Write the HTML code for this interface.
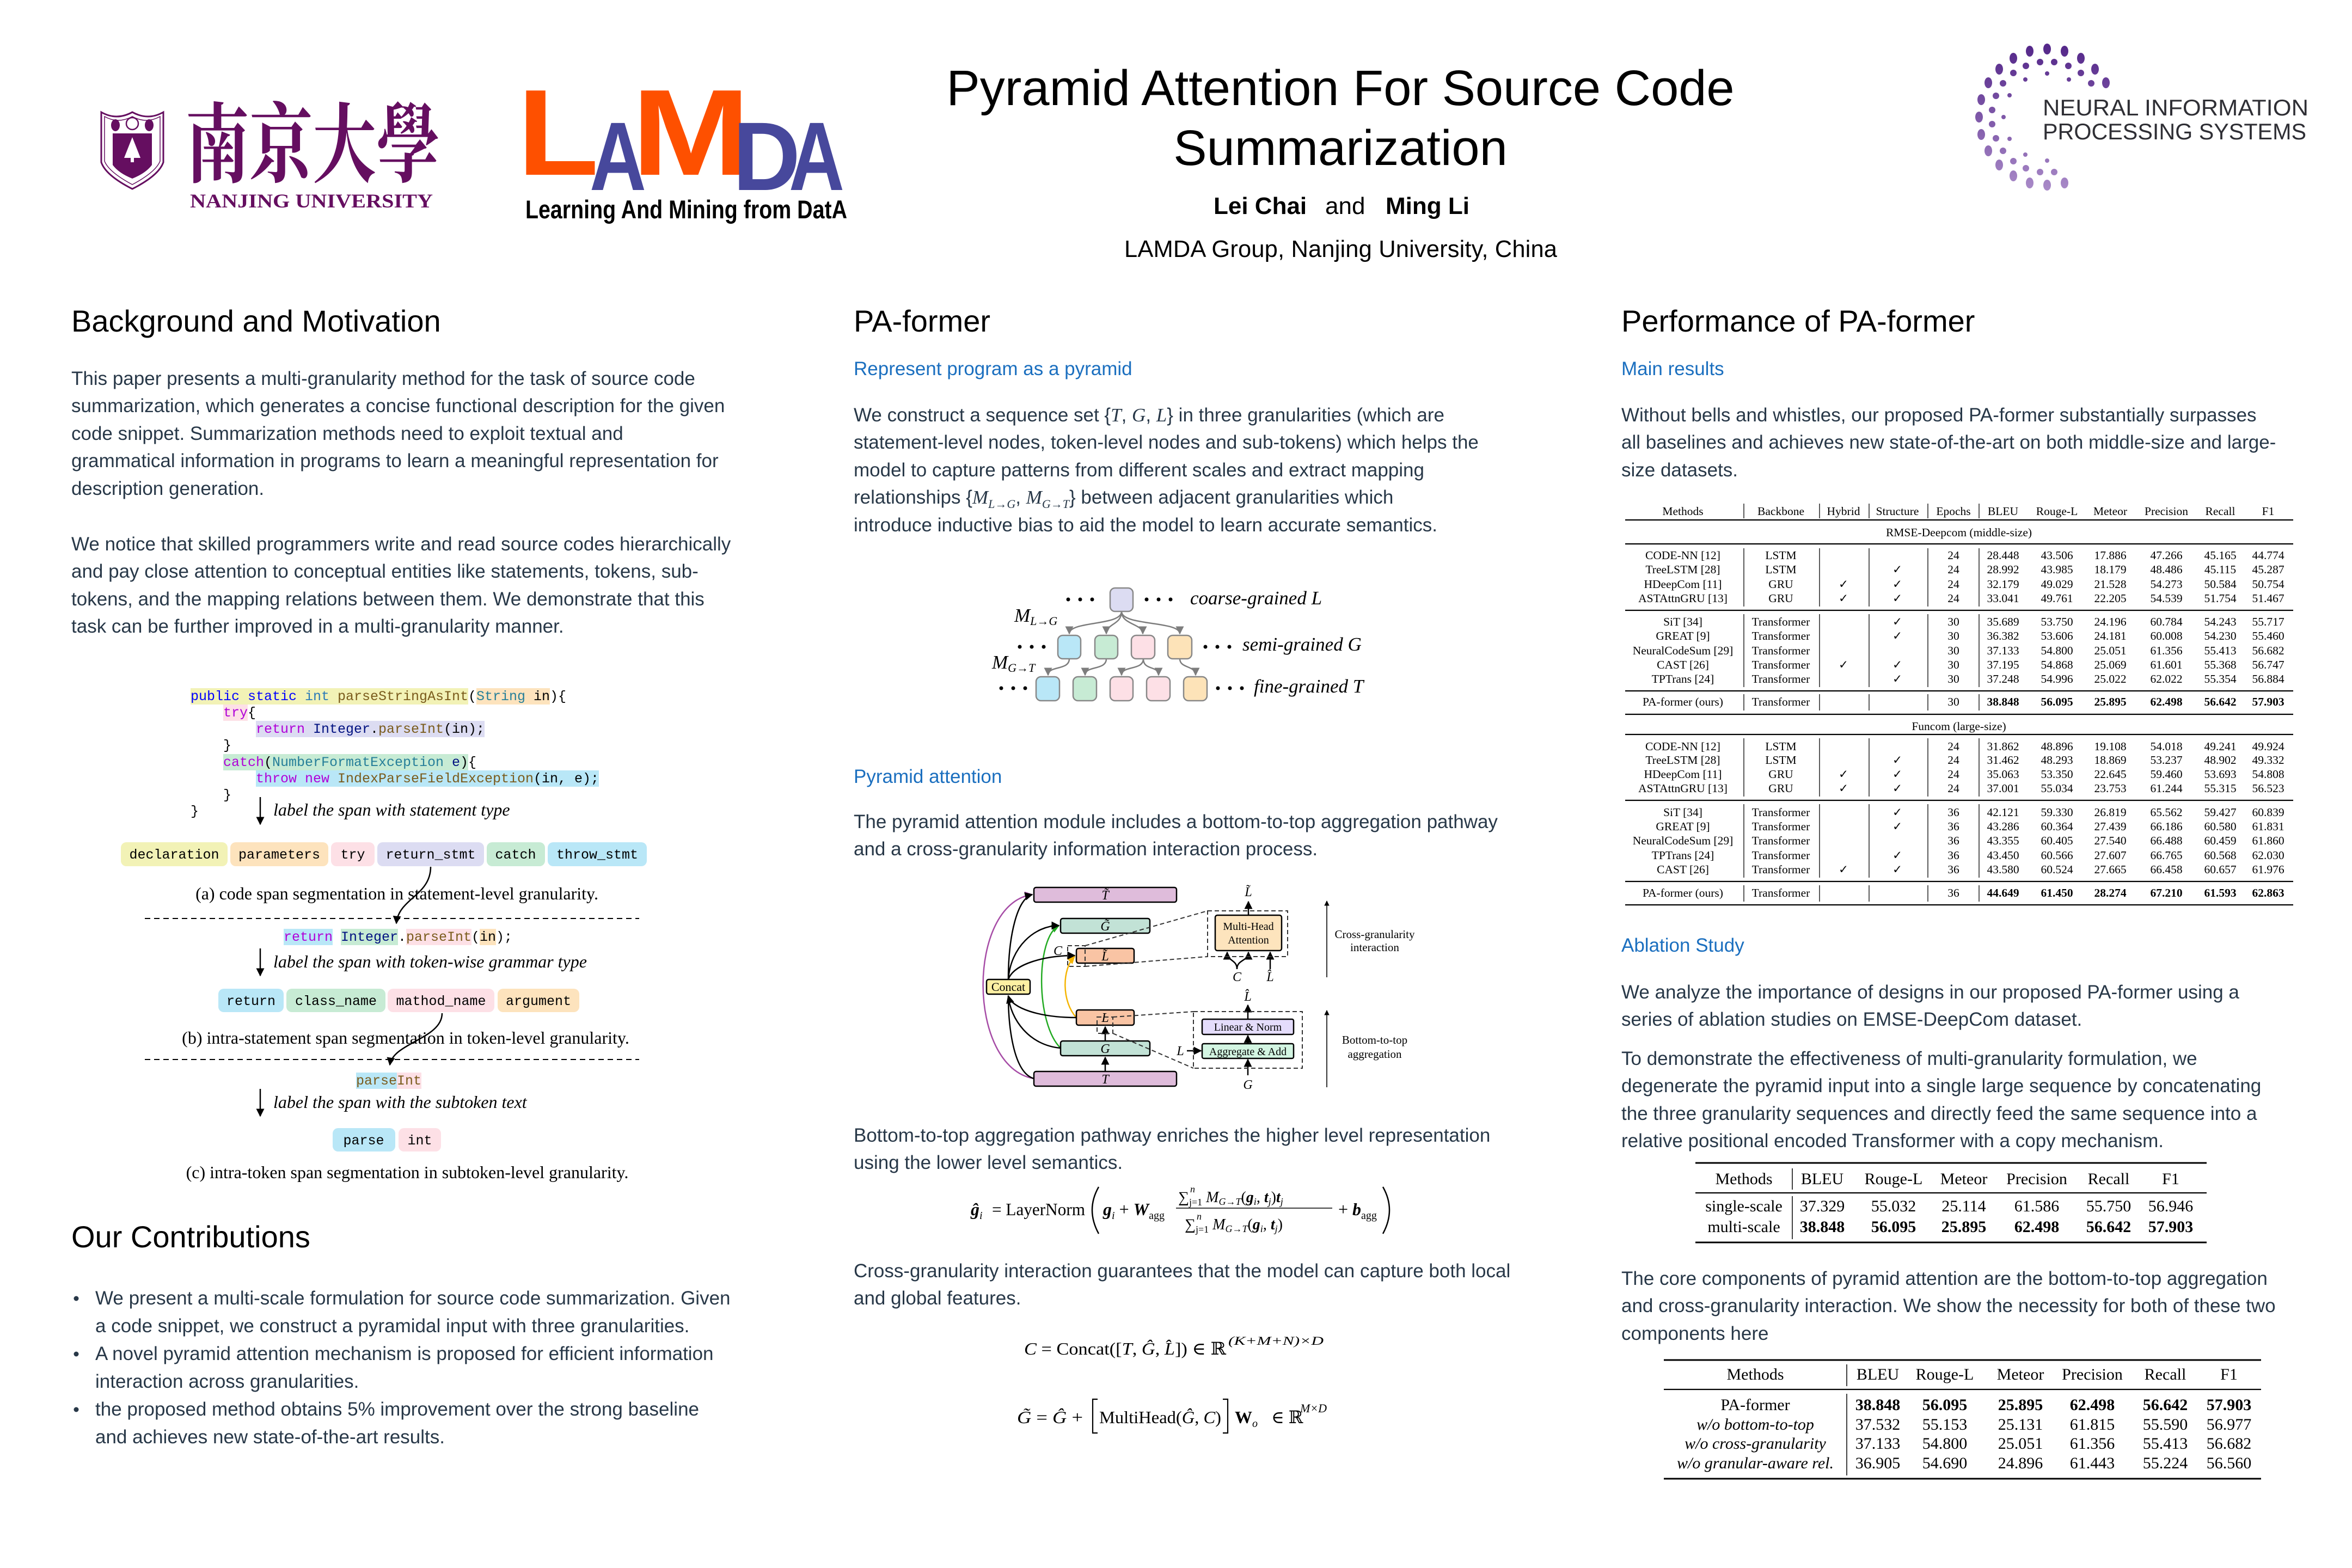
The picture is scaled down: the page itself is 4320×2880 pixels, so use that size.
<!DOCTYPE html>
<html><head><meta charset="utf-8">
<style>
html,body{margin:0;padding:0;background:#fff;}
body{width:4320px;height:2880px;overflow:hidden;position:relative;}
svg{position:absolute;left:0;top:0;}
.sans{font-family:"Liberation Sans",Arial,sans-serif;}
.serif{font-family:"Liberation Serif","DejaVu Serif",serif;}
.mono{font-family:"Liberation Mono","DejaVu Sans Mono",monospace;font-size:25px;}
.body{font-family:"Liberation Sans",Arial,sans-serif;font-size:35px;fill:#283848;}
.h{font-family:"Liberation Sans",Arial,sans-serif;font-size:56px;fill:#000;}
.sub{font-family:"Liberation Sans",Arial,sans-serif;font-size:35px;fill:#1b6fbf;}
.m{font-family:"Liberation Serif","DejaVu Serif",serif;font-style:italic;}
.tb{font-family:"Liberation Serif","DejaVu Serif",serif;font-size:21.5px;fill:#000;}
.tb2{font-family:"Liberation Serif","DejaVu Serif",serif;font-size:30px;fill:#000;}
.cap{font-family:"Liberation Serif","DejaVu Serif",serif;font-size:32px;fill:#000;}
.lab{font-family:"Liberation Serif","DejaVu Serif",serif;font-size:32px;font-style:italic;fill:#000;}
.fig{font-family:"Liberation Serif","DejaVu Serif",serif;fill:#000;}
</style></head><body>
<svg width="4320" height="2880" viewBox="0 0 4320 2880">
<defs>
<marker id="ab" viewBox="0 0 10 10" refX="9" refY="5" markerWidth="6" markerHeight="6" orient="auto-start-reverse"><path d="M0,0 L10,5 L0,10 z" fill="#000"/></marker>
<marker id="ag" viewBox="0 0 10 10" refX="9" refY="5" markerWidth="6" markerHeight="6" orient="auto-start-reverse"><path d="M0,0 L10,5 L0,10 z" fill="#7d7d7d"/></marker>
<marker id="ap" viewBox="0 0 10 10" refX="9" refY="5" markerWidth="6" markerHeight="6" orient="auto"><path d="M0,0 L10,5 L0,10 z" fill="#a64ca6"/></marker>
<marker id="agr" viewBox="0 0 10 10" refX="9" refY="5" markerWidth="6" markerHeight="6" orient="auto"><path d="M0,0 L10,5 L0,10 z" fill="#22aa22"/></marker>
<marker id="aor" viewBox="0 0 10 10" refX="9" refY="5" markerWidth="6" markerHeight="6" orient="auto"><path d="M0,0 L10,5 L0,10 z" fill="#f5b400"/></marker>
<linearGradient id="nips" x1="0" y1="85" x2="0" y2="350" gradientUnits="userSpaceOnUse"><stop offset="0" stop-color="#55288a"/><stop offset="1" stop-color="#a98ac8"/></linearGradient>
</defs>

<!-- ================= HEADER ================= -->
<!-- NJU emblem -->
<path d="M186,206 Q214,222 243,206 Q272,222 300,206 L300,298 Q292,322 243,347 Q194,322 186,298 Z" stroke="#650e60" stroke-width="3" fill="#fff"/>
<path d="M192,214 Q217,228 243,214 Q269,228 294,214 L294,296 Q286,316 243,339 Q200,316 192,296 Z" stroke="#650e60" stroke-width="1.5" fill="none"/>
<path d="M207,245 L279,245 L279,303 Q268,318 243,328 Q218,318 207,303 Z" fill="#650e60"/>
<polygon points="243,252 228,290 258,290" fill="#fff"/>
<rect x="240" y="290" width="6" height="8" fill="#fff"/>
<circle cx="243" cy="227" r="11" fill="none" stroke="#650e60" stroke-width="2.5"/>
<ellipse cx="212" cy="230" rx="8" ry="11" fill="#650e60"/>
<ellipse cx="274" cy="230" rx="8" ry="11" fill="#650e60"/>
<text x="341" y="322" style='font-family:"Noto Serif CJK SC","Noto Sans CJK SC",serif;font-weight:bold' font-size="160" fill="#650e60" textLength="467" lengthAdjust="spacingAndGlyphs">南京大學</text>
<text x="349" y="381" class="serif" font-size="36" font-weight="bold" fill="#650e60" textLength="446" lengthAdjust="spacingAndGlyphs">NANJING UNIVERSITY</text>

<!-- LAMDA -->
<g class="sans" font-weight="bold">
<text x="950" y="321" font-size="225" fill="#fe5000" textLength="150" lengthAdjust="spacingAndGlyphs">L</text>
<text x="1083" y="349" font-size="179" fill="#47489c" textLength="104" lengthAdjust="spacingAndGlyphs">A</text>
<text x="1160" y="321" font-size="225" fill="#fe5000" textLength="218" lengthAdjust="spacingAndGlyphs">M</text>
<text x="1346" y="349" font-size="179" fill="#47489c" textLength="124" lengthAdjust="spacingAndGlyphs">D</text>
<text x="1449" y="349" font-size="179" fill="#47489c" textLength="102" lengthAdjust="spacingAndGlyphs">A</text>
<text x="965" y="401" font-size="47" fill="#000" textLength="591" lengthAdjust="spacingAndGlyphs">Learning And Mining from DatA</text>
</g>

<!-- Title -->
<g class="sans" fill="#000">
<text x="2462" y="193" font-size="92" text-anchor="middle">Pyramid Attention For Source Code</text>
<text x="2462" y="303" font-size="92" text-anchor="middle">Summarization</text>
<text x="2229" y="393" font-size="44" font-weight="bold">Lei Chai</text>
<text x="2434" y="393" font-size="44">and</text>
<text x="2545" y="393" font-size="44" font-weight="bold">Ming Li</text>
<text x="2065" y="472" font-size="43.5" textLength="795">LAMDA Group, Nanjing University, China</text>
</g>

<!-- NeurIPS logo -->
<g fill="url(#nips)">
<ellipse cx="3868" cy="152" rx="7" ry="10"/><ellipse cx="3848" cy="127" rx="7" ry="10"/><ellipse cx="3822" cy="107" rx="7" ry="10"/><ellipse cx="3792" cy="94" rx="7" ry="10"/><ellipse cx="3760" cy="90" rx="7" ry="10"/><ellipse cx="3728" cy="94" rx="7" ry="10"/><ellipse cx="3698" cy="107" rx="7" ry="10"/><ellipse cx="3672" cy="127" rx="7" ry="10"/><ellipse cx="3652" cy="152" rx="7" ry="10"/><ellipse cx="3639" cy="183" rx="7" ry="10"/><ellipse cx="3635" cy="215" rx="7" ry="10"/><ellipse cx="3639" cy="247" rx="7" ry="10"/><ellipse cx="3652" cy="277" rx="7" ry="10"/><ellipse cx="3672" cy="303" rx="7" ry="10"/><ellipse cx="3698" cy="323" rx="7" ry="10"/><ellipse cx="3728" cy="336" rx="7" ry="10"/><ellipse cx="3760" cy="340" rx="7" ry="10"/><ellipse cx="3792" cy="336" rx="7" ry="10"/>
<circle cx="3841" cy="153" r="6"/><circle cx="3822" cy="134" r="6"/><circle cx="3799" cy="121" r="6"/><circle cx="3773" cy="114" r="6"/><circle cx="3747" cy="114" r="6"/><circle cx="3721" cy="121" r="6"/><circle cx="3698" cy="134" r="6"/><circle cx="3679" cy="153" r="6"/><circle cx="3666" cy="176" r="6"/><circle cx="3659" cy="202" r="6"/><circle cx="3659" cy="228" r="6"/><circle cx="3666" cy="254" r="6"/><circle cx="3679" cy="277" r="6"/><circle cx="3698" cy="296" r="6"/><circle cx="3721" cy="309" r="6"/><circle cx="3747" cy="316" r="6"/><circle cx="3773" cy="316" r="6"/>
<circle cx="3800" cy="146" r="4"/><circle cx="3760" cy="135" r="4"/><circle cx="3720" cy="146" r="4"/><circle cx="3691" cy="175" r="4"/><circle cx="3680" cy="215" r="4"/><circle cx="3691" cy="255" r="4"/><circle cx="3720" cy="284" r="4"/><circle cx="3760" cy="295" r="4"/>
</g>
<text x="3752" y="212" class="sans" font-size="42" fill="#2f2f35" textLength="488" lengthAdjust="spacingAndGlyphs">NEURAL INFORMATION</text>
<text x="3752" y="256" class="sans" font-size="42" fill="#2f2f35" textLength="484" lengthAdjust="spacingAndGlyphs">PROCESSING SYSTEMS</text>

<!-- ================= LEFT COLUMN ================= -->
<text class="h" x="131" y="609">Background and Motivation</text>
<text class="body" x="131" y="707">This paper presents a multi-granularity method for the task of source code</text>
<text class="body" x="131" y="757">summarization, which generates a concise functional description for the given</text>
<text class="body" x="131" y="808">code snippet. Summarization methods need to exploit textual and</text>
<text class="body" x="131" y="858">grammatical information in programs to learn a meaningful representation for</text>
<text class="body" x="131" y="909">description generation.</text>
<text class="body" x="131" y="1011">We notice that skilled programmers write and read source codes hierarchically</text>
<text class="body" x="131" y="1061">and pay close attention to conceptual entities like statements, tokens, sub-</text>
<text class="body" x="131" y="1112">tokens, and the mapping relations between them. We demonstrate that this</text>
<text class="body" x="131" y="1162">task can be further improved in a multi-granularity manner.</text>

<!-- code figure -->
<rect x="350" y="1264" width="510" height="30" fill="#f2f2b6"/>
<rect x="875" y="1264" width="135" height="30" fill="#fde3bd"/>
<rect x="410" y="1294" width="45" height="30" fill="#fde0e6"/>
<rect x="470" y="1324" width="420" height="30" fill="#dcdcf2"/>
<rect x="410" y="1385" width="450" height="30" fill="#c7ebd4"/>
<rect x="470" y="1415" width="630" height="30" fill="#b9e7f7"/>
<g class="mono" fill="#000">
<text y="1286"><tspan x="350" fill="#0000ff">public</tspan><tspan x="455" fill="#0000ff">static</tspan><tspan x="560" fill="#2b7ab8">int</tspan><tspan x="620" fill="#7a5b1c">parseStringAsInt</tspan><tspan x="860">(</tspan><tspan x="875" fill="#267f99">String</tspan><tspan x="980">in</tspan><tspan x="1010">){</tspan></text>
<text y="1316"><tspan x="410" fill="#b000d8">try</tspan><tspan x="455">{</tspan></text>
<text y="1346"><tspan x="470" fill="#b000d8">return</tspan><tspan x="575" fill="#001080">Integer</tspan><tspan x="680">.</tspan><tspan x="695" fill="#7a5b1c">parseInt</tspan><tspan x="815">(in);</tspan></text>
<text y="1376"><tspan x="410">}</tspan></text>
<text y="1407"><tspan x="410" fill="#b000d8">catch</tspan><tspan x="485">(</tspan><tspan x="500" fill="#267f99">NumberFormatException</tspan><tspan x="830" fill="#001080">e</tspan><tspan x="845">){</tspan></text>
<text y="1437"><tspan x="470" fill="#b000d8">throw</tspan><tspan x="560" fill="#b000d8">new</tspan><tspan x="620" fill="#7a5b1c">IndexParseFieldException</tspan><tspan x="980">(in,</tspan><tspan x="1055">e);</tspan></text>
<text y="1467"><tspan x="410">}</tspan></text>
<text y="1497"><tspan x="350">}</tspan></text>
</g>
<line x1="478" y1="1464" x2="478" y2="1514" stroke="#000" stroke-width="2.5" marker-end="url(#ab)"/>
<text class="lab" x="502" y="1498">label the span with statement type</text>

<g>
<rect x="222" y="1547" width="196" height="44" rx="10" fill="#f2f2b6"/>
<rect x="423" y="1547" width="180" height="44" rx="10" fill="#fde3bd"/>
<rect x="608" y="1547" width="80" height="44" rx="10" fill="#fde0e6"/>
<rect x="693" y="1547" width="196" height="44" rx="10" fill="#dcdcf2"/>
<rect x="894" y="1547" width="107" height="44" rx="10" fill="#c7ebd4"/>
<rect x="1006" y="1547" width="182" height="44" rx="10" fill="#b9e7f7"/>
</g>
<g class="mono" fill="#000" text-anchor="middle">
<text y="1577"><tspan x="320">declaration</tspan><tspan x="513">parameters</tspan><tspan x="648">try</tspan><tspan x="791">return_stmt</tspan><tspan x="947">catch</tspan><tspan x="1097">throw_stmt</tspan></text>
</g>
<path d="M791,1592 C791,1645 732,1650 728,1696" fill="none" stroke="#000" stroke-width="2.5" marker-end="url(#ab)"/>
<text class="cap" x="729" y="1652" text-anchor="middle">(a) code span segmentation in statement-level granularity.</text>
<line x1="266" y1="1687" x2="1174" y2="1687" stroke="#000" stroke-width="2" stroke-dasharray="10,7"/>

<rect x="521" y="1706" width="90" height="30" fill="#b9e7f7"/>
<rect x="626" y="1706" width="105" height="30" fill="#c7ebd4"/>
<rect x="746" y="1706" width="120" height="30" fill="#fde0e6"/>
<rect x="881" y="1706" width="30" height="30" fill="#fde3bd"/>
<g class="mono" fill="#000"><text y="1728"><tspan x="521" fill="#b000d8">return</tspan><tspan x="626" fill="#001080">Integer</tspan><tspan x="731">.</tspan><tspan x="746" fill="#7a5b1c">parseInt</tspan><tspan x="866">(</tspan><tspan x="881">in</tspan><tspan x="911">);</tspan></text></g>
<line x1="478" y1="1742" x2="478" y2="1792" stroke="#000" stroke-width="2.5" marker-end="url(#ab)"/>
<text class="lab" x="502" y="1777">label the span with token-wise grammar type</text>
<rect x="401" y="1816" width="120" height="43" rx="10" fill="#b9e7f7"/>
<rect x="526" y="1816" width="182" height="43" rx="10" fill="#c7ebd4"/>
<rect x="712" y="1816" width="196" height="43" rx="10" fill="#fde0e6"/>
<rect x="914" y="1816" width="150" height="43" rx="10" fill="#fde3bd"/>
<g class="mono" fill="#000" text-anchor="middle"><text y="1846"><tspan x="461">return</tspan><tspan x="617">class_name</tspan><tspan x="810">mathod_name</tspan><tspan x="989">argument</tspan></text></g>
<path d="M812,1861 C812,1908 722,1915 716,1956" fill="none" stroke="#000" stroke-width="2.5" marker-end="url(#ab)"/>
<text class="cap" x="745" y="1917" text-anchor="middle">(b) intra-statement span segmentation in token-level granularity.</text>
<line x1="266" y1="1946" x2="1174" y2="1946" stroke="#000" stroke-width="2" stroke-dasharray="10,7"/>

<rect x="654" y="1970" width="75" height="30" fill="#b9e7f7"/>
<rect x="729" y="1970" width="45" height="30" fill="#fde0e6"/>
<text class="mono" x="654" y="1992" fill="#7a5b1c">parseInt</text>
<line x1="478" y1="2000" x2="478" y2="2050" stroke="#000" stroke-width="2.5" marker-end="url(#ab)"/>
<text class="lab" x="502" y="2035">label the span with the subtoken text</text>
<rect x="611" y="2072" width="115" height="43" rx="10" fill="#b9e7f7"/>
<rect x="732" y="2072" width="78" height="43" rx="10" fill="#fde0e6"/>
<g class="mono" fill="#000" text-anchor="middle"><text y="2102"><tspan x="668">parse</tspan><tspan x="771">int</tspan></text></g>
<text class="cap" x="748" y="2164" text-anchor="middle">(c) intra-token span segmentation in subtoken-level granularity.</text>

<text class="h" x="131" y="2291">Our Contributions</text>
<circle cx="140" cy="2385" r="4.5" fill="#283848"/>
<circle cx="140" cy="2487" r="4.5" fill="#283848"/>
<circle cx="140" cy="2589" r="4.5" fill="#283848"/>
<text class="body" x="175" y="2396">We present a multi-scale formulation for source code summarization. Given</text>
<text class="body" x="175" y="2447">a code snippet, we construct a pyramidal input with three granularities.</text>
<text class="body" x="175" y="2498">A novel pyramid attention mechanism is proposed for efficient information</text>
<text class="body" x="175" y="2549">interaction across granularities.</text>
<text class="body" x="175" y="2600">the proposed method obtains 5% improvement over the strong baseline</text>
<text class="body" x="175" y="2651">and achieves new state-of-the-art results.</text>

<!-- ================= MIDDLE COLUMN ================= -->
<text class="h" x="1568" y="609">PA-former</text>
<text class="sub" x="1568" y="689">Represent program as a pyramid</text>
<text class="body" x="1568" y="774">We construct a sequence set {<tspan class="m">T</tspan>, <tspan class="m">G</tspan>, <tspan class="m">L</tspan>} in three granularities (which are</text>
<text class="body" x="1568" y="824">statement-level nodes, token-level nodes and sub-tokens) which helps the</text>
<text class="body" x="1568" y="875">model to capture patterns from different scales and extract mapping</text>
<text class="body" x="1568" y="925">relationships {<tspan class="m">M</tspan><tspan class="m" font-size="22" dy="8">L→G</tspan><tspan dy="-8">, </tspan><tspan class="m">M</tspan><tspan class="m" font-size="22" dy="8">G→T</tspan><tspan dy="-8">} between adjacent granularities which</tspan></text>
<text class="body" x="1568" y="976">introduce inductive bias to aid the model to learn accurate semantics.</text>

<!-- pyramid figure -->
<g stroke="#7d7d7d" stroke-width="2.5" fill="none">
<path d="M2060,1123 C2060,1150 1964,1140 1964,1164" marker-end="url(#ag)"/>
<path d="M2060,1123 C2060,1148 2032,1145 2032,1164" marker-end="url(#ag)"/>
<path d="M2060,1123 C2060,1148 2099,1145 2099,1164" marker-end="url(#ag)"/>
<path d="M2060,1123 C2060,1150 2167,1140 2167,1164" marker-end="url(#ag)"/>
<path d="M1964,1210 C1964,1232 1925,1222 1925,1240" marker-end="url(#ag)"/>
<path d="M2032,1210 C2032,1232 1993,1222 1993,1240" marker-end="url(#ag)"/>
<path d="M2100,1210 C2100,1232 2060,1222 2060,1240" marker-end="url(#ag)"/>
<path d="M2100,1210 C2100,1232 2128,1222 2128,1240" marker-end="url(#ag)"/>
<path d="M2167,1210 C2167,1228 2196,1222 2196,1240" marker-end="url(#ag)"/>
</g>
<g stroke="#888" stroke-width="2.5">
<rect x="2039" y="1080" width="42" height="43" rx="9" fill="#dcdcf2"/>
<rect x="1943" y="1167" width="42" height="43" rx="9" fill="#b9e7f7"/>
<rect x="2011" y="1167" width="42" height="43" rx="9" fill="#c7ebd4"/>
<rect x="2078" y="1167" width="43" height="43" rx="9" fill="#fde0e6"/>
<rect x="2145" y="1167" width="44" height="43" rx="9" fill="#fde3b8"/>
<rect x="1903" y="1243" width="43" height="44" rx="9" fill="#b9e7f7"/>
<rect x="1971" y="1243" width="43" height="44" rx="9" fill="#c7ebd4"/>
<rect x="2039" y="1243" width="42" height="44" rx="9" fill="#fde0e6"/>
<rect x="2106" y="1243" width="43" height="44" rx="9" fill="#fde0e6"/>
<rect x="2174" y="1243" width="43" height="44" rx="9" fill="#fde3b8"/>
</g>
<g fill="#000">
<circle cx="1962" cy="1101" r="3.5"/><circle cx="1984" cy="1101" r="3.5"/><circle cx="2006" cy="1101" r="3.5"/>
<circle cx="2106" cy="1101" r="3.5"/><circle cx="2128" cy="1101" r="3.5"/><circle cx="2150" cy="1101" r="3.5"/>
<circle cx="1873" cy="1188" r="3.5"/><circle cx="1895" cy="1188" r="3.5"/><circle cx="1917" cy="1188" r="3.5"/>
<circle cx="2214" cy="1188" r="3.5"/><circle cx="2236" cy="1188" r="3.5"/><circle cx="2258" cy="1188" r="3.5"/>
<circle cx="1839" cy="1264" r="3.5"/><circle cx="1861" cy="1264" r="3.5"/><circle cx="1883" cy="1264" r="3.5"/>
<circle cx="2237" cy="1264" r="3.5"/><circle cx="2259" cy="1264" r="3.5"/><circle cx="2281" cy="1264" r="3.5"/>
</g>
<g class="fig" font-style="italic" font-size="35">
<text x="2186" y="1110">coarse-grained L</text>
<text x="2282" y="1195">semi-grained G</text>
<text x="2303" y="1272">fine-grained T</text>
<text x="1863" y="1142">M<tspan font-size="22" dy="6">L→G</tspan></text>
<text x="1822" y="1228">M<tspan font-size="22" dy="6">G→T</tspan></text>
</g>

<text class="sub" x="1568" y="1438">Pyramid attention</text>
<text class="body" x="1568" y="1521">The pyramid attention module includes a bottom-to-top aggregation pathway</text>
<text class="body" x="1568" y="1571">and a cross-granularity information interaction process.</text>

<!-- attention figure -->
<g fill="none" stroke-width="2.5">
<path d="M1899,1981 C1775,1960 1775,1660 1896,1643" stroke="#a64ca6" marker-end="url(#ap)"/>
<path d="M1948,1925 C1902,1880 1902,1722 1945,1700" stroke="#22aa22" marker-end="url(#agr)"/>
<path d="M1977,1869 C1950,1840 1950,1780 1974,1756" stroke="#f5b400" marker-end="url(#aor)"/>
<g stroke="#000">
<path d="M1852,1799 C1852,1720 1868,1650 1896,1643" marker-end="url(#ab)"/>
<path d="M1852,1799 C1856,1740 1900,1700 1945,1700" marker-end="url(#ab)"/>
<path d="M1852,1799 C1862,1770 1920,1755 1974,1755" marker-end="url(#ab)"/>
<path d="M1977,1869 C1910,1869 1858,1852 1852,1829" marker-end="url(#ab)"/>
<path d="M1948,1925 C1890,1920 1856,1872 1852,1829"/>
<path d="M1899,1981 C1860,1970 1852,1880 1852,1829"/>
<path d="M2030,1968 L2030,1942" marker-end="url(#ab)"/>
<path d="M2030,1912 L2030,1886" marker-end="url(#ab)"/>
<path d="M2293,1681 L2293,1656" marker-end="url(#ab)"/>
<path d="M2272,1780 C2272,1762 2254,1766 2254,1749" marker-end="url(#ab)"/>
<path d="M2272,1780 C2272,1762 2293,1766 2293,1749" marker-end="url(#ab)"/>
<path d="M2333,1780 L2333,1749" marker-end="url(#ab)"/>
<path d="M2292,1917 L2292,1902" marker-end="url(#ab)"/>
<path d="M2292,1872 L2292,1846" marker-end="url(#ab)"/>
<path d="M2292,1975 L2292,1946" marker-end="url(#ab)"/>
<path d="M2180,1930 L2206,1930" marker-end="url(#ab)"/>
</g>
<g stroke="#000" stroke-width="1.6">
<path d="M2437,1795 L2437,1655" marker-end="url(#ab)"/>
<path d="M2437,1997 L2437,1856" marker-end="url(#ab)"/>
</g>
</g>
<g stroke="#000" stroke-width="2.5">
<rect x="1899" y="1630" width="262" height="27" rx="4" fill="#dfbcdb"/>
<rect x="1948" y="1687" width="164" height="27" rx="4" fill="#c2e2d6"/>
<rect x="1977" y="1742" width="106" height="27" rx="4" fill="#f9c4a4"/>
<rect x="1812" y="1799" width="80" height="27" rx="4" fill="#fdf0a3"/>
<rect x="1977" y="1855" width="106" height="28" rx="4" fill="#f9c4a4"/>
<rect x="1948" y="1912" width="164" height="27" rx="4" fill="#c2e2d6"/>
<rect x="1899" y="1968" width="262" height="27" rx="4" fill="#dfbcdb"/>
<rect x="2232" y="1681" width="122" height="65" rx="4" fill="#fde4bd"/>
<rect x="2208" y="1872" width="168" height="28" rx="3" fill="#e4dcfb"/>
<rect x="2208" y="1917" width="168" height="27" rx="3" fill="#d3f5e2"/>
</g>
<g fill="none" stroke="#333" stroke-width="2" stroke-dasharray="8,5">
<rect x="2218" y="1673" width="147" height="84"/>
<rect x="2192" y="1858" width="200" height="104"/>
<rect x="1961" y="1737" width="32" height="38"/>
<rect x="2015" y="1868" width="29" height="30"/>
<path d="M1993,1737 L2218,1673 M1993,1775 L2218,1757 M2044,1868 L2192,1858 M2044,1898 L2192,1962"/>
</g>
<g class="fig" font-size="24" text-anchor="middle">
<text x="2030" y="1652" font-style="italic">T̃</text>
<text x="2030" y="1709" font-style="italic">G̃</text>
<text x="2030" y="1764" font-style="italic">L̃</text>
<text x="1852" y="1820" font-size="22">Concat</text>
<text x="2030" y="1877" font-style="italic">L</text>
<text x="2030" y="1934" font-style="italic">G</text>
<text x="2030" y="1990" font-style="italic">T</text>
<text x="1943" y="1754" font-style="italic">C</text>
<text x="2293" y="1708" font-size="20">Multi-Head</text>
<text x="2293" y="1733" font-size="20">Attention</text>
<text x="2293" y="1646" font-style="italic">L̃</text>
<text x="2272" y="1802" font-style="italic">C</text>
<text x="2333" y="1802" font-style="italic">L̂</text>
<text x="2292" y="1838" font-style="italic">L̂</text>
<text x="2292" y="1893" font-size="20">Linear &amp; Norm</text>
<text x="2292" y="1938" font-size="20">Aggregate &amp; Add</text>
<text x="2292" y="2000" font-style="italic">G</text>
<text x="2168" y="1938" font-style="italic">L</text>
<text x="2525" y="1723" font-size="21">Cross-granularity</text>
<text x="2525" y="1747" font-size="21">interaction</text>
<text x="2525" y="1917" font-size="21">Bottom-to-top</text>
<text x="2525" y="1943" font-size="21">aggregation</text>
</g>

<text class="body" x="1568" y="2097">Bottom-to-top aggregation pathway enriches the higher level representation</text>
<text class="body" x="1568" y="2147">using the lower level semantics.</text>

<!-- formula 1 -->
<g class="fig">
<text x="1783" y="2232" font-size="32" font-weight="bold" font-style="italic">ĝ<tspan font-size="20" dy="7" font-weight="normal">i</tspan></text>
<text x="1822" y="2232" font-size="32" textLength="171" lengthAdjust="spacingAndGlyphs">= LayerNorm</text>
<path d="M2018,2180 Q1994,2222 2018,2266" fill="none" stroke="#000" stroke-width="2.5"/>
<text x="2026" y="2232" font-size="32"><tspan font-weight="bold" font-style="italic">g</tspan><tspan font-size="20" dy="7" font-style="italic">i</tspan><tspan dy="-7"> + </tspan><tspan font-weight="bold" font-style="italic">W</tspan><tspan font-size="20" dy="7">agg</tspan></text>
<text x="2164" y="2208" font-size="28">∑<tspan font-size="18" dy="6">j=1</tspan><tspan dy="-6"> </tspan><tspan font-style="italic">M</tspan><tspan font-size="18" dy="5" font-style="italic">G→T</tspan><tspan dy="-5">(</tspan><tspan font-weight="bold" font-style="italic">g</tspan><tspan font-size="18" dy="5" font-style="italic">i</tspan><tspan dy="-5">, </tspan><tspan font-weight="bold" font-style="italic">t</tspan><tspan font-size="18" dy="5" font-style="italic">j</tspan><tspan dy="-5">)</tspan><tspan font-weight="bold" font-style="italic">t</tspan><tspan font-size="18" dy="5" font-style="italic">j</tspan></text>
<text x="2186" y="2190" font-size="18" font-style="italic">n</text>
<line x1="2160" y1="2219" x2="2447" y2="2219" stroke="#000" stroke-width="1.6"/>
<text x="2176" y="2258" font-size="28">∑<tspan font-size="18" dy="6">j=1</tspan><tspan dy="-6"> </tspan><tspan font-style="italic">M</tspan><tspan font-size="18" dy="5" font-style="italic">G→T</tspan><tspan dy="-5">(</tspan><tspan font-weight="bold" font-style="italic">g</tspan><tspan font-size="18" dy="5" font-style="italic">i</tspan><tspan dy="-5">, </tspan><tspan font-weight="bold" font-style="italic">t</tspan><tspan font-size="18" dy="5" font-style="italic">j</tspan><tspan dy="-5">)</tspan></text>
<text x="2198" y="2240" font-size="18" font-style="italic">n</text>
<text x="2458" y="2232" font-size="32">+ <tspan font-weight="bold" font-style="italic">b</tspan><tspan font-size="20" dy="7">agg</tspan></text>
<path d="M2540,2180 Q2564,2222 2540,2266" fill="none" stroke="#000" stroke-width="2.5"/>
</g>

<text class="body" x="1568" y="2346">Cross-granularity interaction guarantees that the model can capture both local</text>
<text class="body" x="1568" y="2396">and global features.</text>

<!-- formula 2 -->
<g class="fig">
<text x="1881" y="2488" font-size="32" textLength="371" lengthAdjust="spacingAndGlyphs"><tspan font-style="italic">C</tspan> = Concat([<tspan font-style="italic">T</tspan>, <tspan font-style="italic">Ĝ</tspan>, <tspan font-style="italic">L̂</tspan>]) ∈ ℝ</text>
<text x="2256" y="2470" font-size="22" font-style="italic" textLength="175" lengthAdjust="spacingAndGlyphs">(K+M+N)×D</text>
<!-- formula 3 -->
<text x="1868" y="2614" font-size="32" textLength="121" lengthAdjust="spacingAndGlyphs"><tspan font-style="italic">G̃</tspan> = <tspan font-style="italic">Ĝ</tspan> +</text>
<path d="M2016,2570 L2007,2570 L2007,2632 L2016,2632" fill="none" stroke="#000" stroke-width="2.2"/>
<text x="2019" y="2614" font-size="32" textLength="224" lengthAdjust="spacingAndGlyphs">MultiHead(<tspan font-style="italic">Ĝ</tspan>, <tspan font-style="italic">C</tspan>)</text>
<path d="M2246,2570 L2255,2570 L2255,2632 L2246,2632" fill="none" stroke="#000" stroke-width="2.2"/>
<text x="2268" y="2614" font-size="32" font-weight="bold">W<tspan font-size="20" dy="7" font-style="italic" font-weight="normal">o</tspan></text>
<text x="2335" y="2614" font-size="32">∈ ℝ</text>
<text x="2388" y="2594" font-size="22" font-style="italic">M×D</text>
</g>

<!-- ================= RIGHT COLUMN ================= -->
<text class="h" x="2978" y="609">Performance of PA-former</text>
<text class="sub" x="2978" y="689">Main results</text>
<text class="body" x="2978" y="774">Without bells and whistles, our proposed PA-former substantially surpasses</text>
<text class="body" x="2978" y="824">all baselines and achieves new state-of-the-art on both middle-size and large-</text>
<text class="body" x="2978" y="875">size datasets.</text>

<!-- main table -->
<g stroke="#000" stroke-width="2.2">
<line x1="2985" y1="955" x2="4212" y2="955"/>
<line x1="2985" y1="999" x2="4212" y2="999"/>
<line x1="2985" y1="1121" x2="4212" y2="1121"/>
<line x1="2985" y1="1269" x2="4212" y2="1269"/>
<line x1="2985" y1="1312" x2="4212" y2="1312"/>
<line x1="2985" y1="1349" x2="4212" y2="1349"/>
<line x1="2985" y1="1470" x2="4212" y2="1470"/>
<line x1="2985" y1="1619" x2="4212" y2="1619"/>
<line x1="2985" y1="1662" x2="4212" y2="1662"/>
</g>
<g stroke="#000" stroke-width="1.3">
<path d="M3203,925 V952 M3342,925 V952 M3433,925 V952 M3541,925 V952 M3635,925 V952"/>
<path d="M3203,1007 V1114 M3342,1007 V1114 M3433,1007 V1114 M3541,1007 V1114 M3635,1007 V1114"/>
<path d="M3203,1128 V1262 M3342,1128 V1262 M3433,1128 V1262 M3541,1128 V1262 M3635,1128 V1262"/>
<path d="M3203,1275 V1305 M3342,1275 V1305 M3433,1275 V1305 M3541,1275 V1305 M3635,1275 V1305"/>
<path d="M3203,1356 V1463 M3342,1356 V1463 M3433,1356 V1463 M3541,1356 V1463 M3635,1356 V1463"/>
<path d="M3203,1477 V1612 M3342,1477 V1612 M3433,1477 V1612 M3541,1477 V1612 M3635,1477 V1612"/>
<path d="M3203,1626 V1656 M3342,1626 V1656 M3433,1626 V1656 M3541,1626 V1656 M3635,1626 V1656"/>
</g>
<g class="tb" text-anchor="middle">
<text y="946"><tspan x="3091">Methods</tspan><tspan x="3271">Backbone</tspan><tspan x="3386">Hybrid</tspan><tspan x="3485">Structure</tspan><tspan x="3588">Epochs</tspan><tspan x="3679">BLEU</tspan><tspan x="3778">Rouge-L</tspan><tspan x="3876">Meteor</tspan><tspan x="3979">Precision</tspan><tspan x="4078">Recall</tspan><tspan x="4166">F1</tspan></text>
<text x="3598" y="985">RMSE-Deepcom (middle-size)</text>
<text y="1027"><tspan x="3091">CODE-NN [12]</tspan><tspan x="3271">LSTM</tspan><tspan x="3588">24</tspan><tspan x="3679">28.448</tspan><tspan x="3778">43.506</tspan><tspan x="3876">17.886</tspan><tspan x="3979">47.266</tspan><tspan x="4078">45.165</tspan><tspan x="4166">44.774</tspan></text>
<text y="1053"><tspan x="3091">TreeLSTM [28]</tspan><tspan x="3271">LSTM</tspan><tspan x="3485">✓</tspan><tspan x="3588">24</tspan><tspan x="3679">28.992</tspan><tspan x="3778">43.985</tspan><tspan x="3876">18.179</tspan><tspan x="3979">48.486</tspan><tspan x="4078">45.115</tspan><tspan x="4166">45.287</tspan></text>
<text y="1080"><tspan x="3091">HDeepCom [11]</tspan><tspan x="3271">GRU</tspan><tspan x="3386">✓</tspan><tspan x="3485">✓</tspan><tspan x="3588">24</tspan><tspan x="3679">32.179</tspan><tspan x="3778">49.029</tspan><tspan x="3876">21.528</tspan><tspan x="3979">54.273</tspan><tspan x="4078">50.584</tspan><tspan x="4166">50.754</tspan></text>
<text y="1106"><tspan x="3091">ASTAttnGRU [13]</tspan><tspan x="3271">GRU</tspan><tspan x="3386">✓</tspan><tspan x="3485">✓</tspan><tspan x="3588">24</tspan><tspan x="3679">33.041</tspan><tspan x="3778">49.761</tspan><tspan x="3876">22.205</tspan><tspan x="3979">54.539</tspan><tspan x="4078">51.754</tspan><tspan x="4166">51.467</tspan></text>
<text y="1149"><tspan x="3091">SiT [34]</tspan><tspan x="3271">Transformer</tspan><tspan x="3485">✓</tspan><tspan x="3588">30</tspan><tspan x="3679">35.689</tspan><tspan x="3778">53.750</tspan><tspan x="3876">24.196</tspan><tspan x="3979">60.784</tspan><tspan x="4078">54.243</tspan><tspan x="4166">55.717</tspan></text>
<text y="1175"><tspan x="3091">GREAT [9]</tspan><tspan x="3271">Transformer</tspan><tspan x="3485">✓</tspan><tspan x="3588">30</tspan><tspan x="3679">36.382</tspan><tspan x="3778">53.606</tspan><tspan x="3876">24.181</tspan><tspan x="3979">60.008</tspan><tspan x="4078">54.230</tspan><tspan x="4166">55.460</tspan></text>
<text y="1202"><tspan x="3091">NeuralCodeSum [29]</tspan><tspan x="3271">Transformer</tspan><tspan x="3588">30</tspan><tspan x="3679">37.133</tspan><tspan x="3778">54.800</tspan><tspan x="3876">25.051</tspan><tspan x="3979">61.356</tspan><tspan x="4078">55.413</tspan><tspan x="4166">56.682</tspan></text>
<text y="1228"><tspan x="3091">CAST [26]</tspan><tspan x="3271">Transformer</tspan><tspan x="3386">✓</tspan><tspan x="3485">✓</tspan><tspan x="3588">30</tspan><tspan x="3679">37.195</tspan><tspan x="3778">54.868</tspan><tspan x="3876">25.069</tspan><tspan x="3979">61.601</tspan><tspan x="4078">55.368</tspan><tspan x="4166">56.747</tspan></text>
<text y="1254"><tspan x="3091">TPTrans [24]</tspan><tspan x="3271">Transformer</tspan><tspan x="3485">✓</tspan><tspan x="3588">30</tspan><tspan x="3679">37.248</tspan><tspan x="3778">54.996</tspan><tspan x="3876">25.022</tspan><tspan x="3979">62.022</tspan><tspan x="4078">55.354</tspan><tspan x="4166">56.884</tspan></text>
<text y="1296"><tspan x="3091">PA-former (ours)</tspan><tspan x="3271">Transformer</tspan><tspan x="3588">30</tspan><tspan font-weight="bold" x="3679">38.848</tspan><tspan font-weight="bold" x="3778">56.095</tspan><tspan font-weight="bold" x="3876">25.895</tspan><tspan font-weight="bold" x="3979">62.498</tspan><tspan font-weight="bold" x="4078">56.642</tspan><tspan font-weight="bold" x="4166">57.903</tspan></text>
<text x="3598" y="1341">Funcom (large-size)</text>
<text y="1378"><tspan x="3091">CODE-NN [12]</tspan><tspan x="3271">LSTM</tspan><tspan x="3588">24</tspan><tspan x="3679">31.862</tspan><tspan x="3778">48.896</tspan><tspan x="3876">19.108</tspan><tspan x="3979">54.018</tspan><tspan x="4078">49.241</tspan><tspan x="4166">49.924</tspan></text>
<text y="1403"><tspan x="3091">TreeLSTM [28]</tspan><tspan x="3271">LSTM</tspan><tspan x="3485">✓</tspan><tspan x="3588">24</tspan><tspan x="3679">31.462</tspan><tspan x="3778">48.293</tspan><tspan x="3876">18.869</tspan><tspan x="3979">53.237</tspan><tspan x="4078">48.902</tspan><tspan x="4166">49.332</tspan></text>
<text y="1429"><tspan x="3091">HDeepCom [11]</tspan><tspan x="3271">GRU</tspan><tspan x="3386">✓</tspan><tspan x="3485">✓</tspan><tspan x="3588">24</tspan><tspan x="3679">35.063</tspan><tspan x="3778">53.350</tspan><tspan x="3876">22.645</tspan><tspan x="3979">59.460</tspan><tspan x="4078">53.693</tspan><tspan x="4166">54.808</tspan></text>
<text y="1455"><tspan x="3091">ASTAttnGRU [13]</tspan><tspan x="3271">GRU</tspan><tspan x="3386">✓</tspan><tspan x="3485">✓</tspan><tspan x="3588">24</tspan><tspan x="3679">37.001</tspan><tspan x="3778">55.034</tspan><tspan x="3876">23.753</tspan><tspan x="3979">61.244</tspan><tspan x="4078">55.315</tspan><tspan x="4166">56.523</tspan></text>
<text y="1499"><tspan x="3091">SiT [34]</tspan><tspan x="3271">Transformer</tspan><tspan x="3485">✓</tspan><tspan x="3588">36</tspan><tspan x="3679">42.121</tspan><tspan x="3778">59.330</tspan><tspan x="3876">26.819</tspan><tspan x="3979">65.562</tspan><tspan x="4078">59.427</tspan><tspan x="4166">60.839</tspan></text>
<text y="1525"><tspan x="3091">GREAT [9]</tspan><tspan x="3271">Transformer</tspan><tspan x="3485">✓</tspan><tspan x="3588">36</tspan><tspan x="3679">43.286</tspan><tspan x="3778">60.364</tspan><tspan x="3876">27.439</tspan><tspan x="3979">66.186</tspan><tspan x="4078">60.580</tspan><tspan x="4166">61.831</tspan></text>
<text y="1551"><tspan x="3091">NeuralCodeSum [29]</tspan><tspan x="3271">Transformer</tspan><tspan x="3588">36</tspan><tspan x="3679">43.355</tspan><tspan x="3778">60.405</tspan><tspan x="3876">27.540</tspan><tspan x="3979">66.488</tspan><tspan x="4078">60.459</tspan><tspan x="4166">61.860</tspan></text>
<text y="1578"><tspan x="3091">TPTrans [24]</tspan><tspan x="3271">Transformer</tspan><tspan x="3485">✓</tspan><tspan x="3588">36</tspan><tspan x="3679">43.450</tspan><tspan x="3778">60.566</tspan><tspan x="3876">27.607</tspan><tspan x="3979">66.765</tspan><tspan x="4078">60.568</tspan><tspan x="4166">62.030</tspan></text>
<text y="1604"><tspan x="3091">CAST [26]</tspan><tspan x="3271">Transformer</tspan><tspan x="3386">✓</tspan><tspan x="3485">✓</tspan><tspan x="3588">36</tspan><tspan x="3679">43.580</tspan><tspan x="3778">60.524</tspan><tspan x="3876">27.665</tspan><tspan x="3979">66.458</tspan><tspan x="4078">60.657</tspan><tspan x="4166">61.976</tspan></text>
<text y="1647"><tspan x="3091">PA-former (ours)</tspan><tspan x="3271">Transformer</tspan><tspan x="3588">36</tspan><tspan font-weight="bold" x="3679">44.649</tspan><tspan font-weight="bold" x="3778">61.450</tspan><tspan font-weight="bold" x="3876">28.274</tspan><tspan font-weight="bold" x="3979">67.210</tspan><tspan font-weight="bold" x="4078">61.593</tspan><tspan font-weight="bold" x="4166">62.863</tspan></text>
</g>

<text class="sub" x="2978" y="1748">Ablation Study</text>
<text class="body" x="2978" y="1834">We analyze the importance of designs in our proposed PA-former using a</text>
<text class="body" x="2978" y="1884">series of ablation studies on EMSE-DeepCom dataset.</text>
<text class="body" x="2978" y="1956">To demonstrate the effectiveness of multi-granularity formulation, we</text>
<text class="body" x="2978" y="2006">degenerate the pyramid input into a single large sequence by concatenating</text>
<text class="body" x="2978" y="2057">the three granularity sequences and directly feed the same sequence into a</text>
<text class="body" x="2978" y="2107">relative positional encoded Transformer with a copy mechanism.</text>

<!-- ablation table 1 -->
<g stroke="#000">
<line x1="3114" y1="2136" x2="4053" y2="2136" stroke-width="3"/>
<line x1="3114" y1="2191" x2="4053" y2="2191" stroke-width="2.2"/>
<line x1="3114" y1="2282" x2="4053" y2="2282" stroke-width="3"/>
<path d="M3292,2146 V2185 M3292,2197 V2276" stroke-width="1.5"/>
</g>
<g class="tb2" text-anchor="middle">
<text y="2175"><tspan x="3203">Methods</tspan><tspan x="3347">BLEU</tspan><tspan x="3478">Rouge-L</tspan><tspan x="3607">Meteor</tspan><tspan x="3741">Precision</tspan><tspan x="3873">Recall</tspan><tspan x="3987">F1</tspan></text>
<text y="2225"><tspan x="3203">single-scale</tspan><tspan x="3347">37.329</tspan><tspan x="3478">55.032</tspan><tspan x="3607">25.114</tspan><tspan x="3741">61.586</tspan><tspan x="3873">55.750</tspan><tspan x="3987">56.946</tspan></text>
<text y="2263"><tspan x="3203">multi-scale</tspan><tspan font-weight="bold" x="3347">38.848</tspan><tspan font-weight="bold" x="3478">56.095</tspan><tspan font-weight="bold" x="3607">25.895</tspan><tspan font-weight="bold" x="3741">62.498</tspan><tspan font-weight="bold" x="3873">56.642</tspan><tspan font-weight="bold" x="3987">57.903</tspan></text>
</g>

<text class="body" x="2978" y="2360">The core components of pyramid attention are the bottom-to-top aggregation</text>
<text class="body" x="2978" y="2410">and cross-granularity interaction. We show the necessity for both of these two</text>
<text class="body" x="2978" y="2461">components here</text>

<!-- ablation table 2 -->
<g stroke="#000">
<line x1="3056" y1="2498" x2="4153" y2="2498" stroke-width="3"/>
<line x1="3056" y1="2552" x2="4153" y2="2552" stroke-width="2.2"/>
<line x1="3056" y1="2716" x2="4153" y2="2716" stroke-width="3"/>
<path d="M3392,2506 V2546 M3392,2560 V2710" stroke-width="1.5"/>
</g>
<g class="tb2" text-anchor="middle">
<text y="2534"><tspan x="3224">Methods</tspan><tspan x="3449">BLEU</tspan><tspan x="3572">Rouge-L</tspan><tspan x="3711">Meteor</tspan><tspan x="3843">Precision</tspan><tspan x="3977">Recall</tspan><tspan x="4094">F1</tspan></text>
<text y="2590"><tspan x="3224">PA-former</tspan><tspan font-weight="bold" x="3449">38.848</tspan><tspan font-weight="bold" x="3572">56.095</tspan><tspan font-weight="bold" x="3711">25.895</tspan><tspan font-weight="bold" x="3843">62.498</tspan><tspan font-weight="bold" x="3977">56.642</tspan><tspan font-weight="bold" x="4094">57.903</tspan></text>
<text y="2626"><tspan x="3224" font-style="italic">w/o bottom-to-top</tspan><tspan x="3449">37.532</tspan><tspan x="3572">55.153</tspan><tspan x="3711">25.131</tspan><tspan x="3843">61.815</tspan><tspan x="3977">55.590</tspan><tspan x="4094">56.977</tspan></text>
<text y="2661"><tspan x="3224" font-style="italic">w/o cross-granularity</tspan><tspan x="3449">37.133</tspan><tspan x="3572">54.800</tspan><tspan x="3711">25.051</tspan><tspan x="3843">61.356</tspan><tspan x="3977">55.413</tspan><tspan x="4094">56.682</tspan></text>
<text y="2697"><tspan x="3224" font-style="italic">w/o granular-aware rel.</tspan><tspan x="3449">36.905</tspan><tspan x="3572">54.690</tspan><tspan x="3711">24.896</tspan><tspan x="3843">61.443</tspan><tspan x="3977">55.224</tspan><tspan x="4094">56.560</tspan></text>
</g>
</svg>
</body></html>
